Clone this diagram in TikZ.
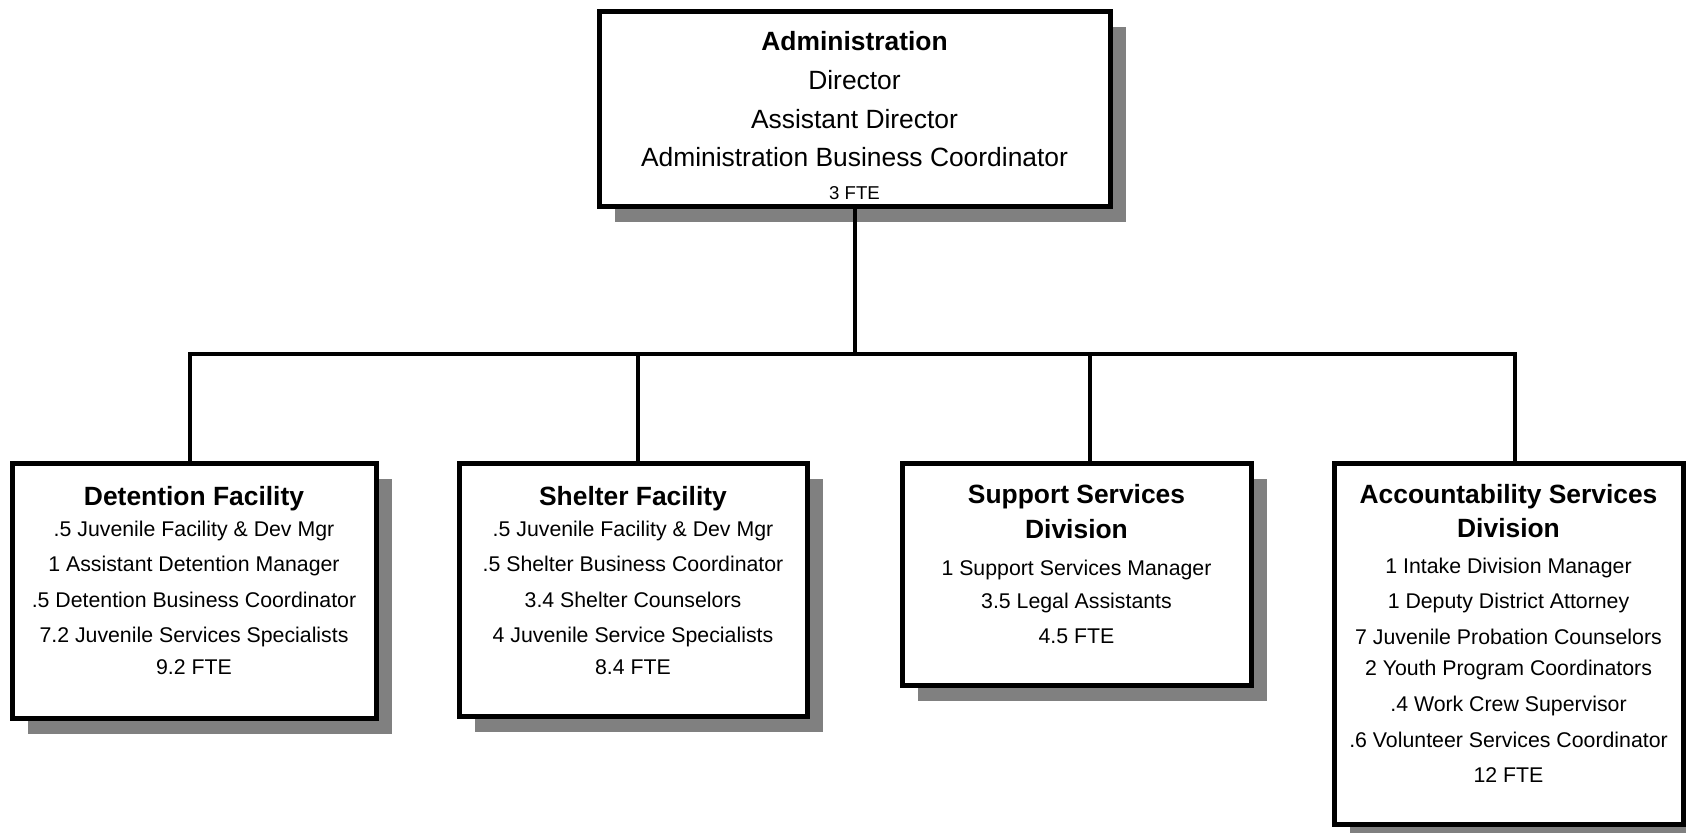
\documentclass[tikz,border=0pt]{standalone}
\usepackage{fontspec}
\setmainfont{Liberation Sans}
\usetikzlibrary{shadows}

\tikzset{
  unit/.style={draw, line width=2.5pt, fill=white, inner sep=0pt, outer sep=0pt,
    anchor=north west,
    drop shadow={shadow xshift=8pt, shadow yshift=-8pt, opacity=1, fill=black!50}},
  link/.style={line width=2pt},
  title/.style={anchor=base, inner sep=0pt, font=\fontsize{13.2}{16}\selectfont\bfseries},
  post/.style={anchor=base, inner sep=0pt, font=\fontsize{13.2}{16}\selectfont},
  staff/.style={anchor=base, inner sep=0pt, font=\fontsize{10.65}{13}\selectfont},
  total/.style={anchor=base, inner sep=0pt, font=\fontsize{9.3}{11}\selectfont}
}

\begin{document}
\begin{tikzpicture}[x=0.5pt, y=-0.5pt]
    \useasboundingbox (0,0) rectangle (1686,832);

    % Boxes
    \node[unit, minimum width=255.5pt, minimum height=97.5pt] (admin) at (599,11) {};
    \node[unit, minimum width=182pt, minimum height=127.5pt] (det) at (12,463) {};
    \node[unit, minimum width=174pt, minimum height=126.5pt] (shel) at (459,463) {};
    \node[unit, minimum width=174.5pt, minimum height=111pt] (supp) at (902,463) {};
    \node[unit, minimum width=174.5pt, minimum height=180.5pt] (acc) at (1334,463) {};

    % Administration
    \node[title] (admin-t) at (854.5,50) {Administration};
    \foreach \y/\t [count=\i] in {89/Director, 128/Assistant Director,
        166/Administration Business Coordinator} {
        \node[post] (admin-\i) at (854.5,\y) {\t};
    }
    \node[total] (admin-fte) at (854.5,199) {3 FTE};

    % Detention
    \node[title] (det-t) at (194,505) {Detention Facility};
    \foreach \y/\t [count=\i] in {536/.5 Juvenile Facility \& Dev Mgr,
        571/1 Assistant Detention Manager, 607/.5 Detention Business Coordinator,
        642/7.2 Juvenile Services Specialists, 674/9.2 FTE} {
        \node[staff] (det-\i) at (194,\y) {\t};
    }

    % Shelter
    \node[title] (shel-t) at (633,505) {Shelter Facility};
    \foreach \y/\t [count=\i] in {536/.5 Juvenile Facility \& Dev Mgr,
        571/.5 Shelter Business Coordinator, 607/3.4 Shelter Counselors,
        642/4 Juvenile Service Specialists, 674/8.4 FTE} {
        \node[staff] (shel-\i) at (633,\y) {\t};
    }

    % Support
    \node[title] (supp-t) at (1076.5,503) {Support Services};
    \node[title] (supp-d) at (1076.5,538) {Division};
    \foreach \y/\t [count=\i] in {575/1 Support Services Manager,
        608/3.5 Legal Assistants, 643/4.5 FTE} {
        \node[staff] (supp-\i) at (1076.5,\y) {\t};
    }

    % Accountability
    \node[title] (acc-t) at (1508.5,503) {Accountability Services};
    \node[title] (acc-d) at (1508.5,537) {Division};
    \foreach \y/\t [count=\i] in {573/1 Intake Division Manager,
        608/1 Deputy District Attorney, 644/7 Juvenile Probation Counselors,
        675/2 Youth Program Coordinators, 711/.4 Work Crew Supervisor,
        747/.6 Volunteer Services Coordinator, 782/12 FTE} {
        \node[staff] (acc-\i) at (1508.5,\y) {\t};
    }

    % Connectors
    \coordinate (bus) at (854,354);
    \coordinate (det-top) at ([xshift=-2pt]det.north);
    \coordinate (shel-top) at ([xshift=2.5pt]shel.north);
    \coordinate (supp-top) at ([xshift=6.5pt]supp.north);
    \coordinate (acc-top) at ([xshift=3.25pt]acc.north);
    \draw[link] (admin.south) -- (admin.south |- bus);
    \draw[link] (det-top) |- (acc-top |- bus) -- (acc-top);
    \draw[link] (shel-top) -- (shel-top |- bus);
    \draw[link] (supp-top) -- (supp-top |- bus);
\end{tikzpicture}
\end{document}
